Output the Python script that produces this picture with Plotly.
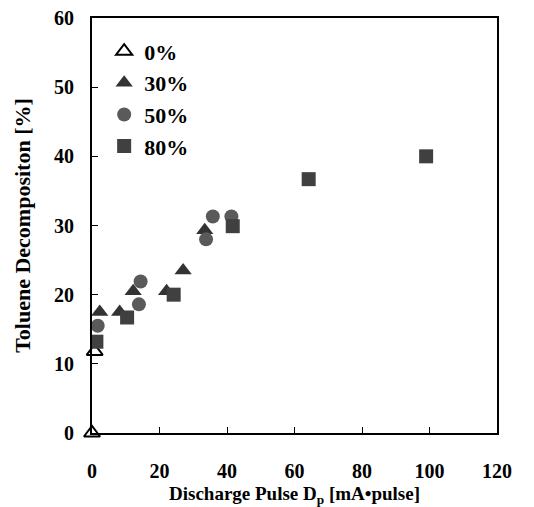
import plotly.graph_objects as go

x0 = [0.0, 0.8]
y0 = [0.0, 11.8]

x30 = [2.3, 8.2, 12.2, 22.1, 27.0, 33.4]
y30 = [17.5, 17.5, 20.5, 20.5, 23.5, 29.3]

x50 = [1.7, 13.9, 14.4, 33.8, 35.8, 41.3]
y50 = [15.5, 18.6, 21.9, 28.0, 31.3, 31.3]

x80 = [1.3, 10.4, 24.2, 41.7, 64.2, 99.0]
y80 = [13.2, 16.7, 20.0, 29.9, 36.7, 40.0]

names = ["0%", "30%", "50%", "80%"]

font_fam = "Liberation Serif"

fig = go.Figure()
fig.add_trace(go.Scatter(x=x0, y=y0, mode="markers", name="<b>" + names[0] + "</b>",
                         marker=dict(symbol="triangle-up", size=14, color="white",
                                     line=dict(color="black", width=2)),
                         cliponaxis=False))
fig.add_trace(go.Scatter(x=x30, y=y30, mode="markers", name="<b>" + names[1] + "</b>",
                         marker=dict(symbol="triangle-up", size=15, color="#333333",
                                     line=dict(width=0))))
fig.add_trace(go.Scatter(x=x50, y=y50, mode="markers", name="<b>" + names[2] + "</b>",
                         marker=dict(symbol="circle", size=14, color="#5a5a5a",
                                     line=dict(width=0))))
fig.add_trace(go.Scatter(x=x80, y=y80, mode="markers", name="<b>" + names[3] + "</b>",
                         marker=dict(symbol="square", size=14, color="#404040",
                                     line=dict(width=0))))

fig.update_layout(
    width=534, height=507,
    margin=dict(l=92, r=37, t=18, b=74),
    paper_bgcolor="white", plot_bgcolor="white",
    font=dict(family=font_fam, size=19, color="black"),
    showlegend=True,
    legend=dict(x=0.03, y=0.97, xanchor="left", yanchor="top",
                bgcolor="rgba(0,0,0,0)", font=dict(size=22, family=font_fam),
                itemwidth=30, tracegroupgap=0),
    xaxis=dict(range=[0, 120], dtick=20, showline=True, linecolor="black", linewidth=2,
               mirror=True, ticks="inside", ticklen=6, tickwidth=1, tickcolor="black",
               showgrid=False, zeroline=False, ticklabelstandoff=19, automargin=False,
               tickprefix="<b>", ticksuffix="</b>",
               tickfont=dict(size=20, family=font_fam),
               title=dict(text="<b>Discharge Pulse D<sub>p</sub> [mA\u2022pulse]</b>",
                          font=dict(size=19, family=font_fam), standoff=9)),
    yaxis=dict(range=[0, 60], dtick=10, showline=True, linecolor="black", linewidth=2,
               mirror=True, ticks="inside", ticklen=6, tickwidth=1, tickcolor="black",
               showgrid=False, zeroline=False, ticklabelstandoff=12, automargin=False,
               tickprefix="<b>", ticksuffix="</b>",
               tickfont=dict(size=20, family=font_fam),
               title=dict(text="<b>Toluene Decompositon [%]</b>",
                          font=dict(size=22, family=font_fam), standoff=17)),
)

fig.write_html("out.html")
